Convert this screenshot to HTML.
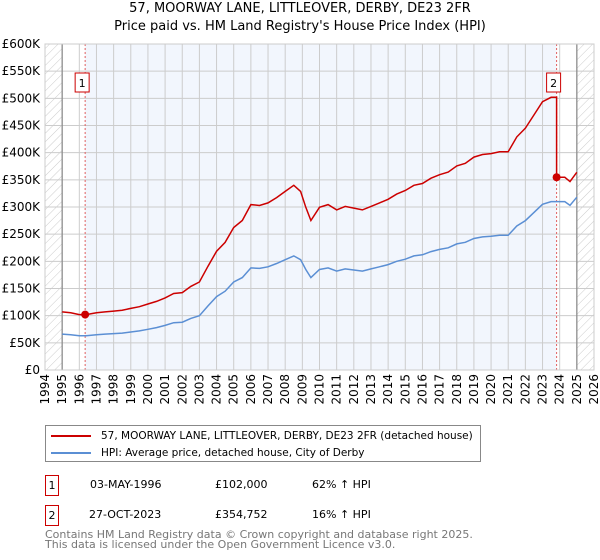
<!DOCTYPE html>
<html><head><meta charset="utf-8"><style>
body{margin:0;background:#fff;font-family:"DejaVu Sans","Liberation Sans",sans-serif;}
#wrap{position:relative;width:600px;height:560px;overflow:hidden}
.t{position:absolute;white-space:nowrap;color:#000}
</style></head><body><div id="wrap">
<div class="t" style="left:0;width:600px;text-align:center;top:1px;font-size:13px">57, MOORWAY LANE, LITTLEOVER, DERBY, DE23 2FR</div>
<div class="t" style="left:0;width:600px;text-align:center;top:19px;font-size:13px">Price paid vs. HM Land Registry's House Price Index (HPI)</div>
<svg id="chart" width="600" height="410" style="position:absolute;left:0;top:0;font-family:'DejaVu Sans',sans-serif">
<defs><pattern id="hatch" width="6" height="6" patternUnits="userSpaceOnUse" patternTransform="rotate(45)"><line x1="0" y1="0" x2="0" y2="6" stroke="#ccc" stroke-width="1"/></pattern></defs>
</svg>
<div style="position:absolute;left:45px;top:425px;width:434px;height:35px;border:1px solid #888;font-size:10.5px;white-space:nowrap">
<div style="position:absolute;left:5px;top:4px;white-space:nowrap"><span style="display:inline-block;width:40px;height:2px;background:#cc0000;vertical-align:middle;margin-right:10px"></span>57, MOORWAY LANE, LITTLEOVER, DERBY, DE23 2FR (detached house)</div>
<div style="position:absolute;left:5px;top:21px;white-space:nowrap"><span style="display:inline-block;width:40px;height:2px;background:#5b8fd4;vertical-align:middle;margin-right:10px"></span>HPI: Average price, detached house, City of Derby</div>
</div>
<div style="position:absolute;top:475px;left:0;font-size:11px">
<div style="position:absolute;left:45px;width:12px;height:19px;border:1px solid #c00;text-align:center;line-height:19px">1</div>
<div class="t" style="left:90px;top:3px">03-MAY-1996</div><div class="t" style="left:215px;top:3px">£102,000</div><div class="t" style="left:312px;top:3px">62% ↑ HPI</div></div>
<div style="position:absolute;top:505px;left:0;font-size:11px">
<div style="position:absolute;left:45px;width:12px;height:19px;border:1px solid #c00;text-align:center;line-height:19px">2</div>
<div class="t" style="left:89px;top:3px">27-OCT-2023</div><div class="t" style="left:215px;top:3px">£354,752</div><div class="t" style="left:312px;top:3px">16% ↑ HPI</div></div>
<div class="t" style="left:45px;top:530px;font-size:11px;color:#777;line-height:10px">Contains HM Land Registry data © Crown copyright and database right 2025.<br>This data is licensed under the Open Government Licence v3.0.</div>
</div>
<script>
const hpiYears=[1995,1995.5,1996,1996.4,1997,1997.5,1998,1998.5,1999,1999.5,2000,2000.5,2001,2001.5,2002,2002.5,2003,2003.5,2004,2004.5,2005,2005.5,2006,2006.5,2007,2007.5,2008,2008.5,2008.9,2009.2,2009.5,2010,2010.5,2011,2011.5,2012,2012.5,2013,2013.5,2014,2014.5,2015,2015.5,2016,2016.5,2017,2017.5,2018,2018.5,2019,2019.5,2020,2020.5,2021,2021.5,2022,2022.5,2023,2023.5,2023.82,2024.3,2024.6,2025];
const hpiValues=[66,65,63,63,65,66,67,68,70,72,75,78,82,87,88,95,100,118,135,145,162,170,188,187,190,196,203,210,203,185,170,185,188,182,186,184,182,186,190,194,200,204,210,212,218,222,225,232,235,242,245,246,248,248,265,275,290,305,310,310,310,303,318];
const saleYears=[1996.34,2023.82];
const salePrices=[102000,354752];
const yTicks=[0,50,100,150,200,250,300,350,400,450,500,550,600];
const yTickLabels=["£0","£50K","£100K","£150K","£200K","£250K","£300K","£350K","£400K","£450K","£500K","£550K","£600K"];
const xYears=[1994,1995,1996,1997,1998,1999,2000,2001,2002,2003,2004,2005,2006,2007,2008,2009,2010,2011,2012,2013,2014,2015,2016,2017,2018,2019,2020,2021,2022,2023,2024,2025,2026];

const X0=45,X1=594,Y0=370,Y1=44;
const xs=y=>X0+(y-1994)/32*(X1-X0);
const ys=v=>Y0-v/600*(Y0-Y1);
const svg=document.getElementById('chart');const NS='http://www.w3.org/2000/svg';
function mk(t,a){const e=document.createElementNS(NS,t);for(const k in a)e.setAttribute(k,a[k]);svg.appendChild(e);return e;}
function hpiAt(y){for(let i=1;i<hpiYears.length;i++){if(y<=hpiYears[i]){const f=(y-hpiYears[i-1])/(hpiYears[i]-hpiYears[i-1]);return hpiValues[i-1]+f*(hpiValues[i]-hpiValues[i-1]);}}return hpiValues[hpiValues.length-1];}
let e;
e=mk('rect',{x:X0,y:Y1,width:X1-X0,height:Y0-Y1,fill:'#fff'});


e=mk('rect',{x:xs(saleYears[0]),y:Y1,width:xs(saleYears[1])-xs(saleYears[0]),height:Y0-Y1,fill:'#f2f6fd'});


e=mk('rect',{x:X0,y:Y1,width:xs(1995)-X0,height:Y0-Y1,fill:'url(#hatch)'});


e=mk('rect',{x:xs(2025),y:Y1,width:X1-xs(2025),height:Y0-Y1,fill:'url(#hatch)'});


yTicks.forEach((v,i)=>{
 e=mk('line',{x1:X0,x2:X1,y1:ys(v),y2:ys(v),stroke:'#ccc','stroke-width':1});
 
 
 e=mk('text',{x:40,y:ys(v)+4,'text-anchor':'end','font-size':12});e.textContent=yTickLabels[i];
 
 
});
xYears.forEach(yr=>{
 e=mk('line',{x1:xs(yr),x2:xs(yr),y1:Y1,y2:Y0,stroke:'#ccc','stroke-width':1});
 
 
 e=mk('text',{x:0,y:0,'text-anchor':'end','font-size':12,transform:`translate(${xs(yr)+4},${Y0+4}) rotate(-90)`});e.textContent=yr;
 
 
});
[1995,2025].forEach(yr=>{e=mk('line',{x1:xs(yr),x2:xs(yr),y1:Y1,y2:Y0,stroke:'#888','stroke-width':1.2});
 
 });
saleYears.forEach(yr=>{e=mk('line',{x1:xs(yr),x2:xs(yr),y1:Y1,y2:Y0,stroke:'#e06060','stroke-width':1,'stroke-dasharray':'2,2'});
 
 });
let d=hpiYears.map((y,i)=>(i?'L':'M')+xs(y).toFixed(1)+','+ys(hpiValues[i]).toFixed(1)).join('');
e=mk('path',{d,fill:'none',stroke:'#5b8fd4','stroke-width':1.5});


const r1=salePrices[0]/1000/hpiAt(saleYears[0]),r2=salePrices[1]/1000/hpiAt(saleYears[1]);
let pts=[];
hpiYears.forEach((y,i)=>{if(y<saleYears[1])pts.push([y,hpiValues[i]*r1]);});
pts.push([saleYears[1],hpiAt(saleYears[1])*r1]);
pts.push([saleYears[1],salePrices[1]/1000]);
hpiYears.forEach((y,i)=>{if(y>saleYears[1])pts.push([y,hpiValues[i]*r2]);});
d=pts.map((p,i)=>(i?'L':'M')+xs(p[0]).toFixed(1)+','+ys(p[1]).toFixed(1)).join('');
e=mk('path',{d,fill:'none',stroke:'#cc0000','stroke-width':1.5});


saleYears.forEach((yr,i)=>{
 e=mk('circle',{cx:xs(yr),cy:ys(salePrices[i]/1000),r:4,fill:'#cc0000'});
 
 
 e=mk('rect',{x:xs(yr)-10,y:73,width:14,height:19,fill:'#fff',stroke:'#c00','stroke-width':1});
 
 
 e=mk('text',{x:xs(yr)-3,y:87,'text-anchor':'middle','font-size':11});e.textContent=String(i+1);
 
 
});
e=mk('rect',{x:X0,y:Y1,width:X1-X0,height:Y0-Y1,fill:'none',stroke:'#ccc'});


</script></body></html>
